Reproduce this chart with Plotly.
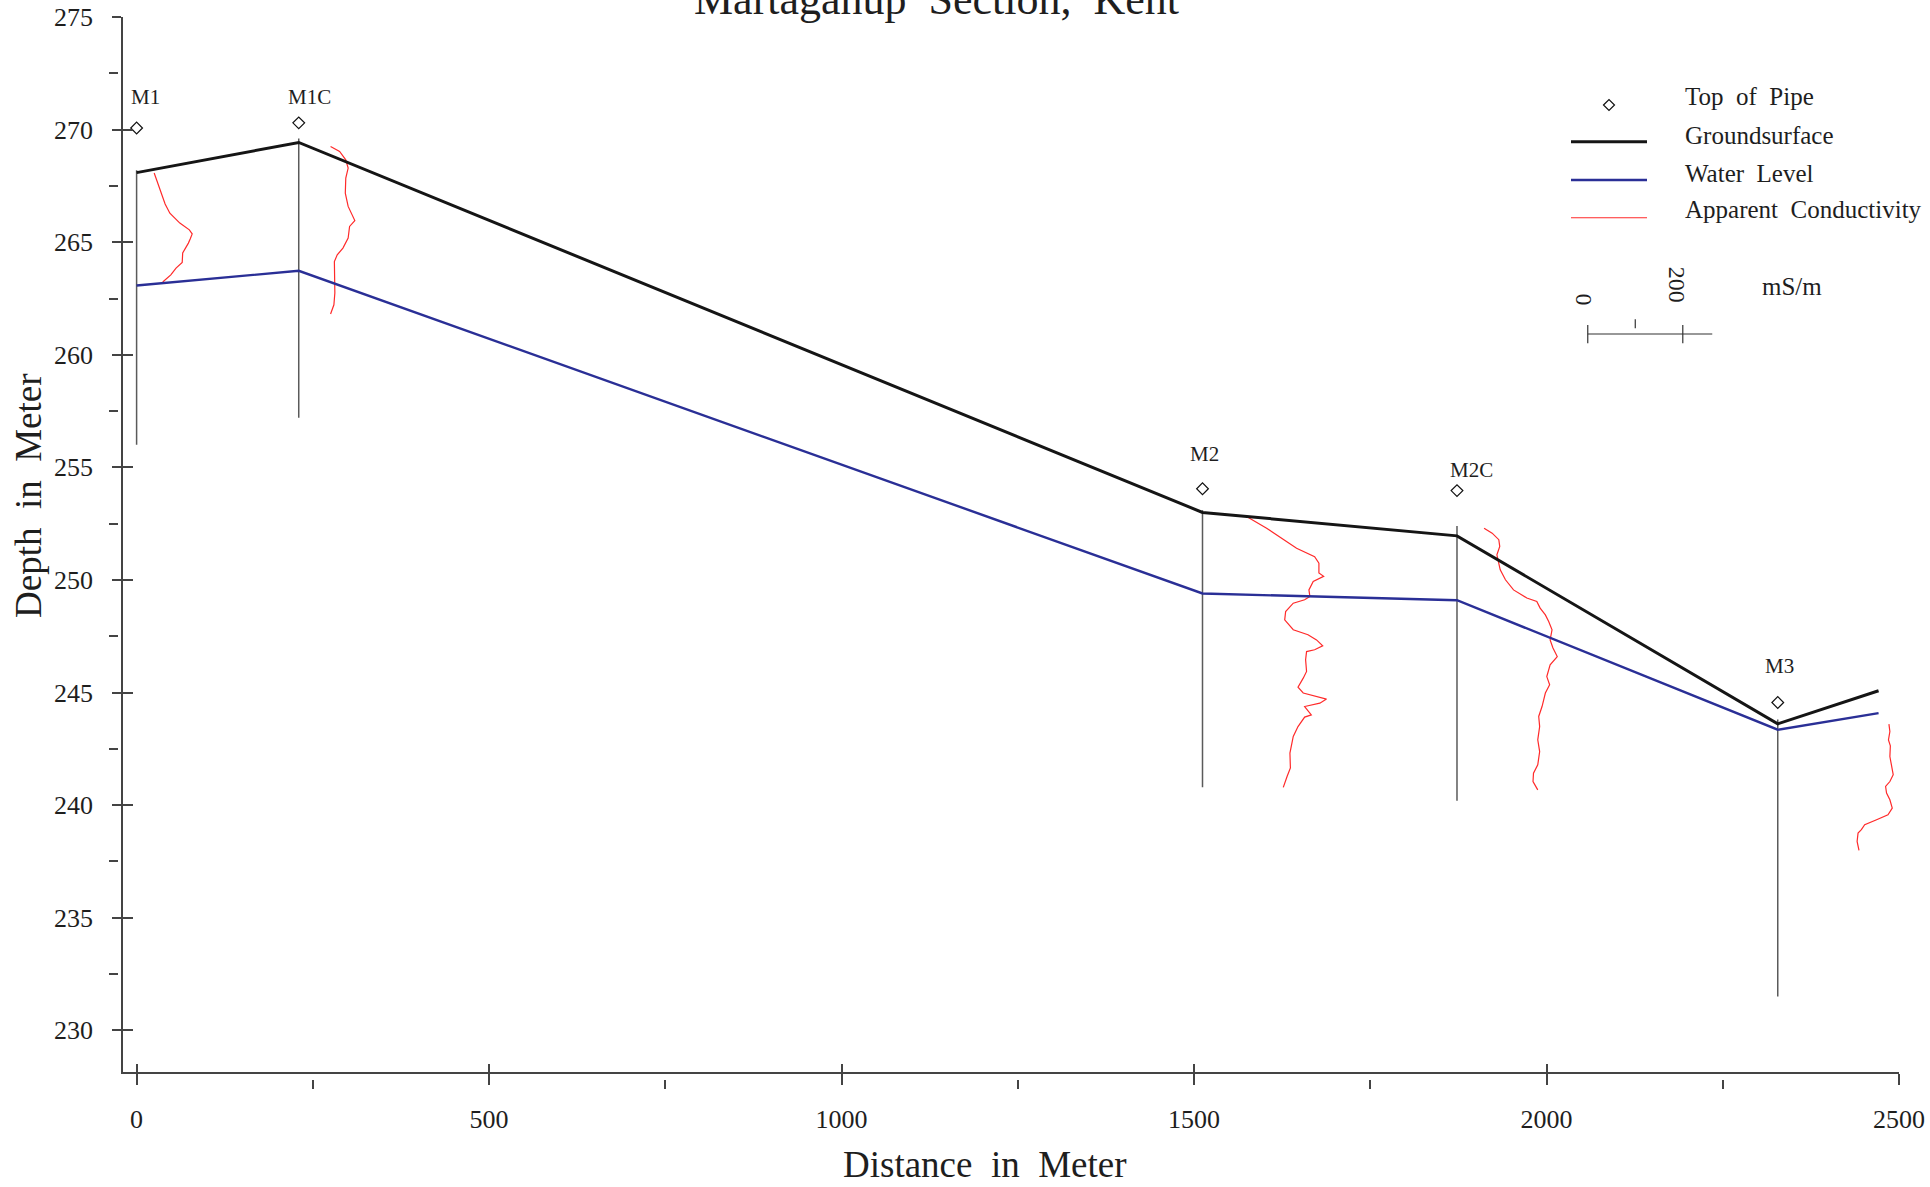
import plotly.graph_objects as go

# ---------------- data ----------------
well_names = ["M1", "M1C", "M2", "M2C", "M3"]
well_x = [0, 230, 1512, 1873, 2328]
pipe_top = [270.07, 270.3, 254.05, 253.97, 244.56]
well_top = [268.2, 269.6, 253.1, 252.4, 243.8]
well_bottom = [256.0, 257.2, 240.8, 240.2, 231.5]
label_x = [12, 245, 1515, 1894, 2331]
label_elev = [271.45, 271.45, 255.6, 254.9, 246.2]

profile_x = [0, 230, 1512, 1873, 2328, 2471]
ground_elev = [268.09, 269.43, 253.0, 251.96, 243.61, 245.08]
water_elev = [263.08, 263.73, 249.4, 249.1, 243.35, 244.09]

# apparent conductivity logs (elevation in m, conductivity in mS/m)
m1_elev = [268.07, 267.6, 267.10, 266.7, 266.29, 265.85, 265.55, 265.37, 265.15,
           264.96, 264.52, 264.10, 263.85, 263.55, 263.23]
m1_cond = [37, 45, 53, 60, 70, 91, 111, 117, 113, 109, 97, 96, 83, 72, 55]

m1c_elev = [269.25, 269.03, 268.66, 268.29, 267.85, 267.18, 266.59, 265.96, 265.70,
            265.18, 264.74, 264.44, 264.14, 263.48, 262.74, 262.22, 261.81]
m1c_cond = [67, 86, 99, 104, 99, 98, 104, 118, 107, 104, 93, 81, 75, 76, 76, 74, 67]

m2_elev = [252.85, 252.30, 251.41, 251.03, 250.75, 250.53, 250.31, 250.16, 249.93,
           249.56, 249.27, 249.12, 248.97, 248.60, 248.23, 247.79, 247.57, 247.34,
           247.08, 246.90, 246.82, 246.46, 245.94, 245.64, 245.42, 245.24, 244.98,
           244.71, 244.53, 244.38, 244.01, 243.91, 243.49, 243.05, 242.31, 241.65,
           241.27, 240.79]
m2_cond = [90, 135, 198, 236, 245, 245, 245, 255, 233, 224, 226, 215, 191, 175, 173,
           191, 222, 240, 253, 236, 219, 217, 219, 212, 206, 201, 212, 261, 247, 215,
           229, 215, 201, 191, 184, 185, 178, 170]

m2c_elev = [252.30, 252.08, 251.79, 251.49, 251.12, 250.45, 250.01, 249.56, 249.20,
            249.05, 248.75, 248.45, 248.16, 247.79, 247.34, 246.98, 246.60, 246.23,
            245.71, 245.35, 244.98, 244.38, 243.94, 243.49, 242.90, 242.38, 241.79,
            241.42, 241.05, 240.68]
m2c_cond = [57, 74, 88, 90, 84, 91, 102, 119, 147, 168, 175, 186, 193, 200, 196, 202,
            211, 196, 189, 195, 186, 179, 172, 174, 170, 174, 170, 161, 160, 170]

m3_elev = [243.60, 243.27, 242.90, 242.64, 242.16, 241.72, 241.35, 241.05, 240.83,
           240.54, 240.24, 239.87, 239.57, 239.35, 239.13, 238.91, 238.76, 238.39, 237.99]
m3_cond = [234, 236, 233, 237, 236, 239, 243, 236, 227, 229, 236, 241, 232, 208, 183,
           176, 169, 167, 171]

cond_scale_value = 200          # mS/m shown on the scale bar
cond_scale_length_m = 134.8     # horizontal distance (m) representing 200 mS/m

x_tick_vals = [0, 500, 1000, 1500, 2000, 2500]
x_minor_vals = [250, 750, 1250, 1750, 2250]
y_tick_vals = [230, 235, 240, 245, 250, 255, 260, 265, 270, 275]
y_minor_vals = [232.5, 237.5, 242.5, 247.5, 252.5, 257.5, 262.5, 267.5, 272.5]

# ---------------- geometry / style ----------------
W, H = 1930, 1187
L, R, T, B = 80, 1899, 17, 1095
PW, PH = R - L, B - T


def px(X):
    return (X - L) / PW


def py(Y):
    return (B - Y) / PH


FONT = "Liberation Serif"
AX = "#444444"
TXT = "#1e1e1e"
GROUND_C = "#151515"
WATER_C = "#2a2f96"
COND_C = "#ff2a2a"
WELL_C = "#5a5a5a"

X_RANGE = [-19.29, 2500]
Y_RANGE = [228.15, 275.001]
m_per_ms = cond_scale_length_m / cond_scale_value

fig = go.Figure()

# wells
wx, wy = [], []
for x, t, b in zip(well_x, well_top, well_bottom):
    wx += [x, x, None]
    wy += [t, b, None]
fig.add_trace(go.Scatter(x=wx, y=wy, mode="lines", line=dict(color=WELL_C, width=1.5),
                         name="Wells", showlegend=False, hoverinfo="skip"))

# conductivity logs
logs = [(m1_elev, m1_cond), (m1c_elev, m1c_cond), (m2_elev, m2_cond),
        (m2c_elev, m2c_cond), (m3_elev, m3_cond)]
for name, x0, (el, co) in zip(well_names, well_x, logs):
    fig.add_trace(go.Scatter(x=[x0 + c * m_per_ms for c in co], y=el, mode="lines",
                             line=dict(color=COND_C, width=1.2),
                             name="Apparent Conductivity " + name, showlegend=False))

# water level and groundsurface
fig.add_trace(go.Scatter(x=profile_x, y=water_elev, mode="lines",
                         line=dict(color=WATER_C, width=2.4), name="Water Level",
                         showlegend=False))
fig.add_trace(go.Scatter(x=profile_x, y=ground_elev, mode="lines",
                         line=dict(color=GROUND_C, width=3), name="Groundsurface",
                         showlegend=False))

# top of pipe
fig.add_trace(go.Scatter(x=well_x, y=pipe_top, mode="markers",
                         marker=dict(symbol="diamond-open", size=9, color="#111",
                                     line=dict(width=1.2, color="#111")),
                         name="Top of Pipe", showlegend=False))

# dummy traces so overlay axes (tick decorations) are drawn
fig.add_trace(go.Scatter(x=[None], y=[None], xaxis="x2", yaxis="y", showlegend=False, hoverinfo="skip"))
fig.add_trace(go.Scatter(x=[None], y=[None], xaxis="x3", yaxis="y", showlegend=False, hoverinfo="skip"))
fig.add_trace(go.Scatter(x=[None], y=[None], xaxis="x", yaxis="y2", showlegend=False, hoverinfo="skip"))
fig.add_trace(go.Scatter(x=[None], y=[None], xaxis="x", yaxis="y3", showlegend=False, hoverinfo="skip"))

tickfont = dict(family=FONT, size=26, color=TXT)
xdom = [px(123), 1]
ydom = [py(1072), 1]

common = dict(showgrid=False, zeroline=False, tickcolor=AX, tickwidth=1.5)

fig.update_layout(
    width=W, height=H,
    margin=dict(l=L, r=W - R, t=T, b=H - B, pad=0, autoexpand=False),
    paper_bgcolor="white", plot_bgcolor="white",
    showlegend=False,
    xaxis=dict(domain=xdom, range=X_RANGE, anchor="y", tickvals=x_tick_vals,
               ticktext=[str(v) for v in x_tick_vals], ticks="outside", ticklen=11,
               showline=True, linecolor=AX, linewidth=1.5, tickfont=tickfont,
               ticklabelstandoff=12, automargin=False, **common),
    xaxis2=dict(overlaying="x", anchor="y", range=X_RANGE, tickvals=x_tick_vals,
                ticks="inside", ticklen=8, showticklabels=False, showline=False,
                side="bottom", **common),
    xaxis3=dict(overlaying="x", anchor="free", position=py(1079), range=X_RANGE,
                tickvals=x_minor_vals, ticks="outside", ticklen=9,
                showticklabels=False, showline=False, side="bottom", **common),
    yaxis=dict(domain=ydom, range=Y_RANGE, anchor="x", tickvals=y_tick_vals,
               ticktext=[str(v) for v in y_tick_vals], ticks="outside", ticklen=9,
               showline=True, linecolor=AX, linewidth=1.5, tickfont=tickfont,
               ticklabelstandoff=14, automargin=False, **common),
    yaxis2=dict(overlaying="y", anchor="x", range=Y_RANGE, tickvals=y_tick_vals,
                ticks="inside", ticklen=10, showticklabels=False, showline=False,
                side="left", **common),
    yaxis3=dict(overlaying="y", anchor="free", position=px(118), range=Y_RANGE,
                tickvals=y_minor_vals, ticks="outside", ticklen=9,
                showticklabels=False, showline=False, side="left", **common),
)

ann = []
# title (partly cut at top like the original)
ann.append(dict(text="Martaganup\u00a0 Section,\u00a0 Kent", xref="paper", yref="paper",
                x=px(936), y=py(25.5), xanchor="center", yanchor="bottom",
                showarrow=False, font=dict(family=FONT, size=44, color=TXT)))
# axis titles
ann.append(dict(text="Distance\u00a0 in\u00a0 Meter", xref="paper", yref="paper",
                x=px(985), y=py(1187), xanchor="center", yanchor="bottom",
                showarrow=False, font=dict(family=FONT, size=37, color=TXT)))
ann.append(dict(text="Depth\u00a0 in\u00a0 Meter", xref="paper", yref="paper",
                x=px(28), y=py(496), xanchor="center", yanchor="middle", textangle=-90,
                showarrow=False, font=dict(family=FONT, size=37, color=TXT)))
# well labels
for n, lx, ly in zip(well_names, label_x, label_elev):
    ann.append(dict(text=n, x=lx, y=ly, xref="x", yref="y", xanchor="center",
                    yanchor="middle", showarrow=False,
                    font=dict(family=FONT, size=21, color=TXT)))

# legend (drawn manually to match the original layout)
legend_items = ["Top\u00a0 of\u00a0 Pipe", "Groundsurface", "Water\u00a0 Level",
                "Apparent\u00a0 Conductivity"]
legend_y = [96.7, 135, 173.3, 210]
for t, yy in zip(legend_items, legend_y):
    ann.append(dict(text=t, xref="paper", yref="paper", x=px(1683), y=py(yy),
                    xanchor="left", yanchor="middle", showarrow=False,
                    font=dict(family=FONT, size=25, color=TXT)))
ann.append(dict(text="mS/m", xref="paper", yref="paper", x=px(1760), y=py(286.7),
                xanchor="left", yanchor="middle", showarrow=False,
                font=dict(family=FONT, size=25, color=TXT)))

# scale bar (in data units of the x axis)
sb_x0 = 2058.5
sb_y = py(334)
sb_end = sb_x0 + 1.31 * cond_scale_length_m
sb_mid = sb_x0 + 0.5 * cond_scale_length_m
sb_max = sb_x0 + cond_scale_length_m
ann.append(dict(text="0", xref="x", yref="paper", x=sb_x0 - 6, y=py(299),
                xanchor="center", yanchor="middle", textangle=90, showarrow=False,
                font=dict(family=FONT, size=24, color=TXT)))
ann.append(dict(text=str(cond_scale_value), xref="x", yref="paper", x=sb_max - 8,
                y=py(285), xanchor="center", yanchor="middle", textangle=90,
                showarrow=False, font=dict(family=FONT, size=24, color=TXT)))

shapes = []
lx0, lx1 = px(1571), px(1647)
shapes.append(dict(type="line", xref="paper", yref="paper", x0=lx0, x1=lx1,
                   y0=py(141.7), y1=py(141.7), line=dict(color=GROUND_C, width=3)))
shapes.append(dict(type="line", xref="paper", yref="paper", x0=lx0, x1=lx1,
                   y0=py(180), y1=py(180), line=dict(color=WATER_C, width=2.4)))
shapes.append(dict(type="line", xref="paper", yref="paper", x0=lx0, x1=lx1,
                   y0=py(217.7), y1=py(217.7), line=dict(color=COND_C, width=1.1)))
dcx, dcy, dr = 1609, 105, 5.5
shapes.append(dict(type="path", xref="paper", yref="paper",
                   path=f"M{px(dcx-dr)},{py(dcy)} L{px(dcx)},{py(dcy-dr)} L{px(dcx+dr)},{py(dcy)} L{px(dcx)},{py(dcy+dr)} Z",
                   line=dict(color="#111", width=1.2), fillcolor="white"))
SB = "#333333"
shapes.append(dict(type="line", xref="x", yref="paper", x0=sb_x0, x1=sb_end,
                   y0=sb_y, y1=sb_y, line=dict(color=SB, width=1.2)))
for xx in (sb_x0, sb_max):
    shapes.append(dict(type="line", xref="x", yref="paper", x0=xx, x1=xx,
                       y0=py(325), y1=py(343.3), line=dict(color=SB, width=1.2)))
shapes.append(dict(type="line", xref="x", yref="paper", x0=sb_mid, x1=sb_mid,
                   y0=py(319.3), y1=py(328.3), line=dict(color=SB, width=1.2)))

fig.update_layout(annotations=ann, shapes=shapes)

fig.write_html("out.html")
